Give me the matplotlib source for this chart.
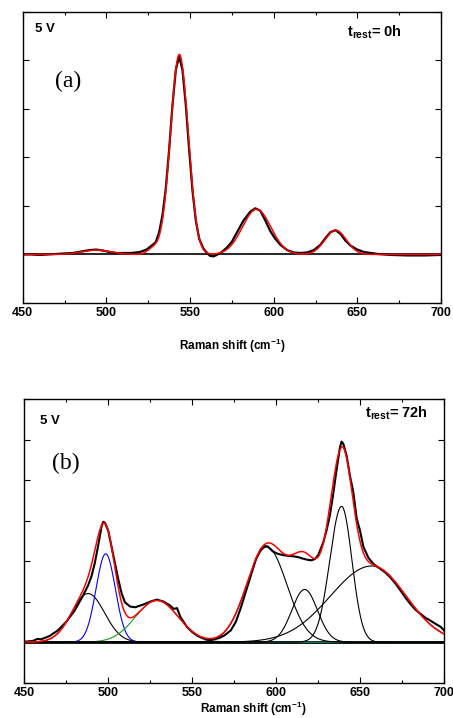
import matplotlib
matplotlib.use("Agg")
import matplotlib.pyplot as plt
import numpy as np
from matplotlib.ticker import MultipleLocator

plt.rcParams['font.family'] = ['Liberation Sans', 'DejaVu Sans']
plt.rcParams['mathtext.fontset'] = 'custom'
plt.rcParams['mathtext.rm'] = 'Liberation Sans'
plt.rcParams['mathtext.bf'] = 'Liberation Sans:bold'

# ---- panel (a): t_rest = 0h, measured spectrum ----
xa = [450, 455, 460, 465, 470, 475, 480, 485, 490, 494, 498, 502, 506, 510, 515,
      520, 524, 527, 529.5, 531.5, 533.5, 535.5, 537.5, 539.5, 541.5, 543.5, 545.5,
      547.5, 549.5, 551.5, 553.5, 555.5, 558, 560, 562, 564, 566, 569, 572, 575, 578,
      582, 586, 589, 592, 595, 598, 601, 604, 608, 612, 616, 620, 624, 628, 631, 634,
      637, 640, 643, 646, 650, 654, 658, 662, 670, 680, 690, 700]
ya = [0.0, 0.0, -0.01, 0.0, 0.01, 0.02, 0.03, 0.06, 0.09, 0.10, 0.08, 0.05, 0.03, 0.03, 0.03,
      0.05, 0.10, 0.18, 0.25, 0.45, 0.80, 1.35, 2.15, 3.07, 3.8, 4.08, 3.8,
      3.07, 2.15, 1.31, 0.69, 0.32, 0.12, 0.04, -0.03, -0.04, -0.01, 0.05, 0.14, 0.26, 0.45,
      0.70, 0.88, 0.95, 0.90, 0.70, 0.48, 0.32, 0.20, 0.09, 0.04, 0.03, 0.04, 0.09, 0.20, 0.34,
      0.46, 0.50, 0.42, 0.28, 0.18, 0.10, 0.05, 0.03, 0.01, -0.01, -0.02, -0.02, -0.01]

# fitted components (a): centre, height, FWHM
ca = [494, 528, 543.6, 589.8, 637]
ha = [0.09, 0.12, 4.12, 0.93, 0.50]
wa = [20, 8, 12.5, 20, 15]

# ---- panel (b): t_rest = 72h, measured spectrum ----
xb = [450, 455, 458, 460, 465, 470, 475, 480, 485, 488, 490, 492, 494, 496, 497, 498,
      500, 502, 504, 506, 508, 510, 513, 516, 521, 525, 529, 533, 537, 539, 541, 543,
      547, 550, 553, 556, 559, 563, 566, 569, 573, 576, 579, 582, 585, 588, 591, 593,
      595, 598, 601, 604, 607, 610, 613, 616, 619, 621, 623, 625, 628, 630, 632, 634,
      636, 638, 639, 640, 642, 644, 646, 648, 650, 652, 655, 658, 662, 665, 668, 671,
      674, 677, 680, 683, 686, 689, 692, 695, 698, 700]
yb = [0.01, 0.03, 0.08, 0.07, 0.15, 0.29, 0.50, 0.78, 1.15, 1.40, 1.62, 1.95, 2.38, 2.85, 2.97, 2.95,
      2.75, 2.35, 1.95, 1.55, 1.2, 0.98, 0.88, 0.86, 0.93, 1.0, 1.05, 1.0, 0.9, 0.82, 0.84, 0.62,
      0.37, 0.25, 0.16, 0.10, 0.06, 0.07, 0.10, 0.16, 0.29, 0.50, 0.85, 1.25, 1.65, 2.05, 2.3, 2.38,
      2.36, 2.24, 2.18, 2.15, 2.13, 2.12, 2.10, 2.06, 2.03, 2.02, 2.05, 2.14, 2.45, 2.75, 3.12, 3.65,
      4.25, 4.8, 4.95, 4.9, 4.6, 4.1, 3.7, 3.05, 2.75, 2.35, 2.08, 1.93, 1.81, 1.72, 1.6, 1.45,
      1.28, 1.1, 0.94, 0.8, 0.7, 0.6, 0.53, 0.45, 0.38, 0.29]

# fitted components (b): centre, height, FWHM left / right side, colour
cb = [488, 498.5, 529, 594.5, 617, 639, 657]
hb = [1.2, 2.18, 1.03, 2.35, 1.30, 3.35, 1.88]
wlb = [23, 13.5, 30, 28, 18, 16.5, 58]
wrb = [23, 13.5, 30, 28, 18, 14.5, 48]
colb = ['black', '#0000ff', '#1f9a1f', 'black', 'black', 'black', 'black']


def gauss(x, c, h, wl, wr=None):
    wr = wl if wr is None else wr
    w = np.where(x < c, wl, wr)
    return h * np.exp(-4 * np.log(2) * (x - c) ** 2 / w ** 2)


xs = np.linspace(450, 700, 1001)

fig = plt.figure(figsize=(4.53, 7.18), dpi=100)
ax1 = fig.add_axes([0.0501, 0.578, 0.9234, 0.4057])
ax2 = fig.add_axes([0.0536, 0.0492, 0.9265, 0.3951])


def style(ax, ymax):
    ax.set_xlim(450, 700)
    ax.set_ylim(-1, ymax)
    ax.xaxis.set_major_locator(MultipleLocator(50))
    ax.xaxis.set_minor_locator(MultipleLocator(25))
    ax.yaxis.set_major_locator(MultipleLocator(1))
    ax.tick_params(which='both', direction='in', top=True, right=True, width=0.8)
    ax.tick_params(which='major', length=4, pad=3, labelsize=9)
    ax.tick_params(which='minor', length=2.2)
    ax.set_yticklabels([])
    for lab in ax.get_xticklabels():
        lab.set_fontweight('bold')
    for s in ax.spines.values():
        s.set_linewidth(1.0)


# panel (a)
ax1.axhline(0, color='black', lw=1.2)
ax1.plot(xa, ya, color='black', lw=1.6)
fit_a = sum(gauss(xs, c, h, w) for c, h, w in zip(ca, ha, wa))
ax1.plot(xs, fit_a, color='#ff0000', lw=1.1)
style(ax1, 5)
ax1.text(0.5, -0.117, r'Raman shift (cm$^{\mathbf{-1}}$)', transform=ax1.transAxes,
         ha='center', va='top', fontsize=8.5, fontweight='bold')
ax1.text(0.029, 0.941, '5 V', transform=ax1.transAxes, fontsize=9.5,
         fontweight='bold', va='center')
ax1.text(0.775, 0.914, r'$\mathbf{t_{rest}}$= 0h', transform=ax1.transAxes,
         fontsize=10.5, fontweight='bold', va='baseline')
ax1.text(0.077, 0.759, '(a)', transform=ax1.transAxes, fontsize=17,
         family='Liberation Serif', va='center')

# panel (b)
ax2.axhline(0, color='black', lw=2.0)
for c, h, wl, wr, col in zip(cb, hb, wlb, wrb, colb):
    ax2.plot(xs, gauss(xs, c, h, wl, wr), color=col, lw=0.8)
ax2.plot(xb, yb, color='black', lw=1.5)
fit_b = sum(gauss(xs, c, h, wl, wr) for c, h, wl, wr in zip(cb, hb, wlb, wrb))
ax2.plot(xs, fit_b, color='#ff0000', lw=1.1)
style(ax2, 6)
ax2.text(0.546, -0.062, r'Raman shift (cm$^{\mathbf{-1}}$)', transform=ax2.transAxes,
         ha='center', va='top', fontsize=8.5, fontweight='bold')
ax2.text(0.037, 0.922, '5 V', transform=ax2.transAxes, fontsize=9.5,
         fontweight='bold', va='center')
ax2.text(0.812, 0.933, r'$\mathbf{t_{rest}}$= 72h', transform=ax2.transAxes,
         fontsize=10.5, fontweight='bold', va='baseline')
ax2.text(0.066, 0.774, '(b)', transform=ax2.transAxes, fontsize=17,
         family='Liberation Serif', va='center')

fig.savefig('out.png', dpi=100)
